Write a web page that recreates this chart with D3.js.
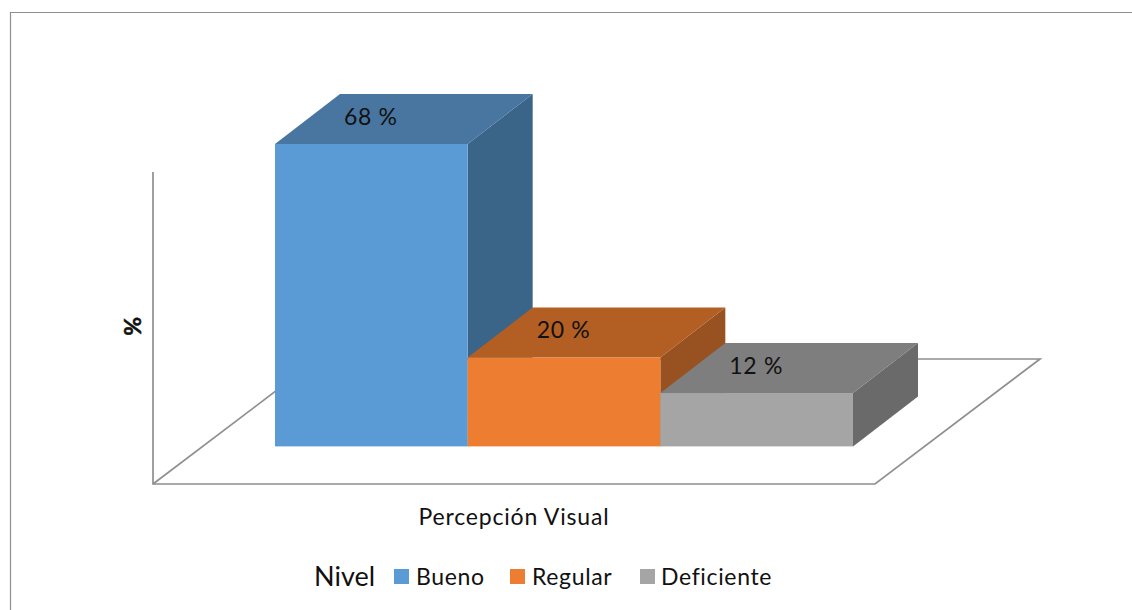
<!DOCTYPE html>
<html><head><meta charset="utf-8">
<script src="https://cdn.jsdelivr.net/npm/d3@7"></script>
<style>html,body{margin:0;padding:0;background:#fff}svg{display:block}text{font-family:Lato,"Open Sans",sans-serif;fill:#111;letter-spacing:.65px}</style>
</head><body><div id="c"></div>
<script>
const categories = ["Bueno","Regular","Deficiente"];
const values = [68,20,12];
const valueLabels = ["68 %","20 %","12 %"];
const frontColors = ["#5B9BD5","#ED7D31","#A5A5A5"];
const topColors = ["#4876A1","#B35F24","#7E7E7E"];
const sideColors = ["#3A6488","#985120","#6A6A6A"];
const W=1132,H=610, depthX=65, depthY=-50;
const svg=d3.select("#c").append("svg").attr("width",W).attr("height",H);
const x=d3.scaleBand().domain(categories).range([275,853]).padding(0);
const y=d3.scaleLinear().domain([0,68]).range([446.4,144]);
const line=d3.line();
const grey="#8f8f8f";
svg.append("path").attr("d","M10.5,610V12.5H1132").attr("fill","none").attr("stroke",grey).attr("stroke-width",1.2);
const floor=[[153,484],[875,484],[1040,359],[318,359]];
svg.append("path").attr("d",line([[153,172],floor[0],floor[1],floor[2],floor[3]])).attr("fill","none").attr("stroke",grey).attr("stroke-width",1.7);
svg.append("path").attr("d",line([floor[0],floor[3]])).attr("fill","none").attr("stroke",grey).attr("stroke-width",1.7);
const g=svg.selectAll("g.bar").data(categories).join("g").attr("class","bar");
g.each(function(c,i){
  const s=d3.select(this),x0=x(c),x1=x0+x.bandwidth(),yt=y(values[i]),yb=y(0);
  s.append("path").attr("d",line([[x1,yt],[x1+depthX,yt+depthY],[x1+depthX,yb+depthY],[x1,yb]])+"Z").attr("fill",sideColors[i]);
  s.append("path").attr("d",line([[x0,yt],[x0+depthX,yt+depthY],[x1+depthX,yt+depthY],[x1,yt]])+"Z").attr("fill",topColors[i]);
  s.append("rect").attr("x",x0).attr("y",yt).attr("width",x.bandwidth()).attr("height",yb-yt).attr("fill",frontColors[i]);
});
svg.selectAll("text.v").data(categories).join("text").attr("class","v")
  .attr("x",c=>x(c)+x.bandwidth()/2-0.5).attr("y",(c,i)=>y(values[i])-19.5)
  .attr("text-anchor","middle").attr("font-size",23).text((c,i)=>valueLabels[i]);
svg.append("text").attr("x",514).attr("y",525).attr("text-anchor","middle").attr("font-size",23).style("letter-spacing","0.8px").text("Percepción Visual");
svg.append("text").attr("transform","translate(141,326) rotate(-90)").attr("text-anchor","middle").attr("font-size",23).attr("font-weight",700).attr("stroke","#111").attr("stroke-width",0.5).text("%");
svg.append("text").attr("x",314).attr("y",586).attr("font-size",27).style("letter-spacing","0").text("Nivel");
const lx=[394,510,640], tx=[416,532,661];
categories.forEach((c,i)=>{
  svg.append("rect").attr("x",lx[i]).attr("y",569).attr("width",15).attr("height",15).attr("fill",frontColors[i]);
  svg.append("text").attr("x",tx[i]).attr("y",585).attr("font-size",23).text(c);
});
</script></body></html>
